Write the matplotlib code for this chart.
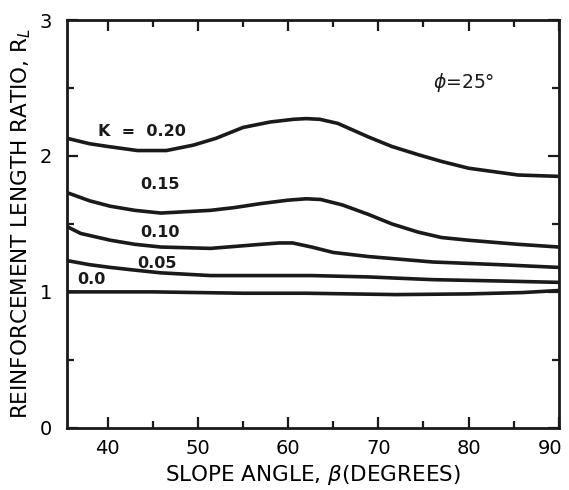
import numpy as np
import matplotlib
matplotlib.use("Agg")
import matplotlib.pyplot as plt
from matplotlib.ticker import MultipleLocator
from matplotlib.transforms import ScaledTranslation

plt.rcParams["font.family"] = ["DejaVu Sans"]
plt.rcParams["mathtext.fontset"] = "dejavusans"

# ── Data (slope angle in degrees, R_L) ───────────────────────────────────────
beta_020 = [35.5, 38, 40, 43.3, 46.5, 49.5, 52, 55, 58, 60.6, 62, 63.5, 65.5, 68.9, 71.5, 74.4, 77, 80, 85.5, 90]
rl_020   = [2.13, 2.09, 2.07, 2.04, 2.04, 2.08, 2.13, 2.21, 2.25, 2.27, 2.275, 2.27, 2.24, 2.14, 2.07, 2.01, 1.96, 1.91, 1.86, 1.85]

beta_015 = [35.5, 38, 40.3, 43, 45.9, 51.4, 54, 57, 60, 62, 63.6, 66, 68.9, 71.5, 74.4, 77, 80, 85.5, 90]
rl_015   = [1.73, 1.67, 1.63, 1.60, 1.58, 1.60, 1.62, 1.65, 1.675, 1.685, 1.68, 1.64, 1.57, 1.50, 1.44, 1.40, 1.38, 1.35, 1.33]

beta_010 = [35.5, 37, 40.3, 43, 45.9, 51.4, 57, 59, 60.5, 62.6, 65, 68.9, 76, 83.5, 90]
rl_010   = [1.48, 1.43, 1.38, 1.35, 1.33, 1.32, 1.35, 1.36, 1.36, 1.33, 1.29, 1.26, 1.22, 1.20, 1.18]

beta_005 = [35.5, 38, 40.3, 43, 45.9, 51.4, 57, 62.6, 68.9, 76, 83.5, 90]
rl_005   = [1.23, 1.20, 1.18, 1.16, 1.14, 1.12, 1.12, 1.12, 1.11, 1.09, 1.08, 1.07]

beta_000 = [35.5, 45, 55, 62, 72, 80, 86, 90]
rl_000   = [1.00, 1.00, 0.99, 0.99, 0.98, 0.985, 0.995, 1.01]

CURVES = [
    (beta_020, rl_020, "K  =  0.20", 38.9, 2.18),
    (beta_015, rl_015, "0.15",       43.6, 1.79),
    (beta_010, rl_010, "0.10",       43.6, 1.44),
    (beta_005, rl_005, "0.05",       43.3, 1.21),
    (beta_000, rl_000, "0.0",        36.6, 1.09),
]

# ── Plot ─────────────────────────────────────────────────────────────────────
fig = plt.figure(figsize=(5.69, 4.90), dpi=100)
ax = fig.add_axes([0.118, 0.127, 0.864, 0.832])

for bx, ry, lbl, tx, ty in CURVES:
    ax.plot(bx, ry, color="#1a1a1a", linewidth=2.6, solid_capstyle="butt",
            solid_joinstyle="round")
    ax.text(tx, ty, lbl, fontsize=11.5, fontweight="bold", color="#1a1a1a",
            ha="left", va="center")

ax.text(76.1, 2.54, r"$\phi$=25°", fontsize=13.5, color="#1a1a1a",
        ha="left", va="center")

ax.set_xlim(35.5, 90)
ax.set_ylim(0, 3)
ax.xaxis.set_major_locator(MultipleLocator(10))
ax.xaxis.set_minor_locator(MultipleLocator(5))
ax.yaxis.set_major_locator(MultipleLocator(1))
ax.yaxis.set_minor_locator(MultipleLocator(0.5))

ax.tick_params(which="both", direction="in", top=True, right=True,
               width=1.6, color="#1a1a1a")
ax.tick_params(which="major", length=8, labelsize=14, pad=8)
ax.tick_params(which="minor", length=5)
ax.tick_params(axis="y", which="major", pad=11)

for sp in ax.spines.values():
    sp.set_linewidth(2.0)
    sp.set_color("#1a1a1a")

ax.set_xlabel(r"SLOPE ANGLE, $\beta$(DEGREES)", fontsize=15.5, labelpad=4)
ax.set_ylabel(r"REINFORCEMENT LENGTH RATIO, R$_L$", fontsize=15.5, labelpad=5)

# nudge the last x tick label left so it stays inside the figure
fig.canvas.draw()
for tick in ax.xaxis.get_major_ticks():
    if tick.label1.get_text() == "90":
        lab = tick.label1
        lab.set_transform(lab.get_transform()
                          + ScaledTranslation(-6 / 72, 0, fig.dpi_scale_trans))

fig.savefig("out.png", dpi=100)
